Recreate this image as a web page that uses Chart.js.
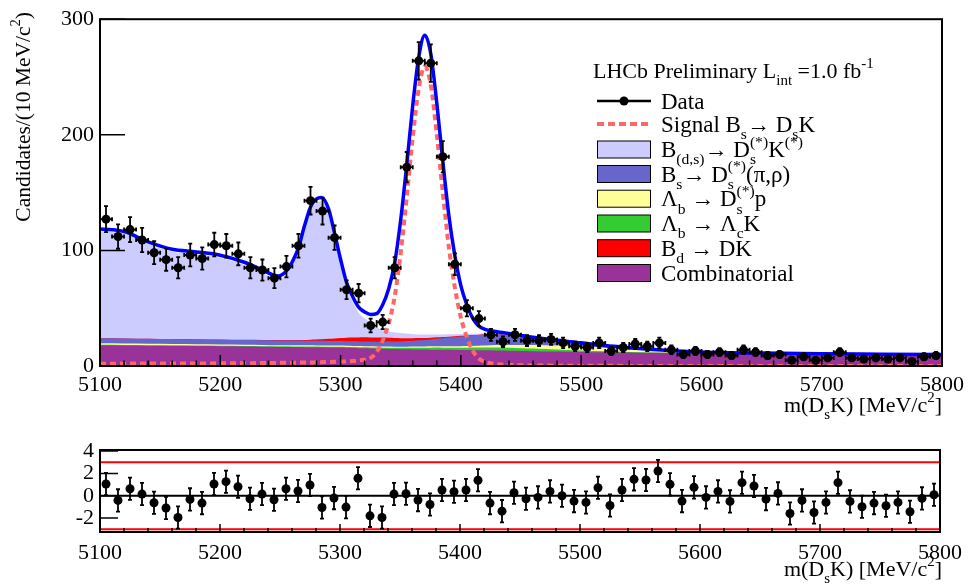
<!DOCTYPE html>
<html>
<head>
<meta charset="utf-8">
<script src="https://cdn.jsdelivr.net/npm/chart.js@4.4.0/dist/chart.umd.min.js"></script>
<style>
  html, body { margin: 0; padding: 0; background: #fff; }
  #top { position: absolute; left: 0; top: 0; width: 970px; height: 420px; }
  #bottom { position: absolute; left: 0; top: 430px; width: 970px; height: 154px; }
</style>
</head>
<body>
<div id="top"><canvas id="mainChart" width="970" height="420"></canvas></div>
<div id="bottom"><canvas id="pullChart" width="970" height="154"></canvas></div>
<script>
// histogram bin centres, 10 MeV bins
const massBins = [5105,5115,5125,5135,5145,5155,5165,5175,5185,5195,
  5205,5215,5225,5235,5245,5255,5265,5275,5285,5295,
  5305,5315,5325,5335,5345,5355,5365,5375,5385,5395,
  5405,5415,5425,5435,5445,5455,5465,5475,5485,5495,
  5505,5515,5525,5535,5545,5555,5565,5575,5585,5595,
  5605,5615,5625,5635,5645,5655,5665,5675,5685,5695,
  5705,5715,5725,5735,5745,5755,5765,5775,5785,5795];
const candidates = [127,112,118,109,98,92,85,96,93,105,
  104,97,85,83,76,86,104,143,134,111,
  66,63,35,38,85,172,264,262,181,88,
  50,41,27,21,27,22,22,23,20,17,
  16,20,13,16,19,17,20,14,10,13,
  10,12,9,14,12,9,10,5,8,5,
  7,12,7,6,7,6,7,4,8,9];
const pulls = [1.05,-0.42,0.63,0.15,-0.63,-1.1,-1.95,-0.33,-0.66,1.05,
  1.26,0.81,-0.27,0.15,-0.36,0.63,0.42,0.96,-1.05,-0.21,
  -1.02,1.57,-1.8,-1.95,0.15,0.18,-0.39,-0.78,0.51,0.36,
  0.51,1.39,-0.66,-1.38,0.27,-0.27,-0.15,0.39,0.0,-0.48,
  -0.6,0.72,-0.87,0.51,1.47,1.41,2.22,1.02,-0.48,0.75,
  -0.15,0.39,-0.51,1.17,0.87,-0.3,0.21,-1.59,-0.42,-1.5,
  -0.6,1.17,-0.51,-0.99,-0.66,-0.9,-0.6,-1.44,-0.24,0.09];

// fit components at these masses
const fitMass = [5100,5120,5140,5160,5180,5200,5220,5235,5248,5256,
  5260,5265,5270,5275,5280,5284,5290,5295,5300,5305,
  5310,5315,5320,5325,5330,5335,5340,5345,5350,5355,
  5360,5365,5370,5375,5380,5385,5390,5395,5400,5405,
  5410,5415,5420,5430,5440,5450,5460,5480,5500,5520,
  5540,5560,5580,5600,5650,5700,5750,5800];
const combinatorial = [18.0,17.8,17.6,17.4,17.2,17.0,16.8,16.65,16.5,16.45,
  16.4,16.35,16.3,16.25,16.2,16.15,16.1,16.05,16.0,15.8,
  15.6,15.45,15.3,15.15,15.0,14.85,14.7,14.6,14.5,14.4,
  14.35,14.3,14.2,14.15,14.1,14.0,13.95,13.9,13.8,13.75,
  13.7,13.6,13.55,13.4,13.2,13.0,12.85,12.5,12.2,11.9,
  11.65,11.4,11.2,11.0,10.7,10.4,10.1,9.8];
const lbLcK = [0.4,0.4,0.4,0.45,0.45,0.5,0.5,0.5,0.5,0.55,
  0.55,0.55,0.55,0.6,0.6,0.6,0.6,0.6,0.65,0.7,
  0.75,0.8,0.85,0.9,0.95,1.0,1.1,1.15,1.2,1.3,
  1.4,1.5,1.6,1.7,1.8,1.85,1.9,1.95,2.0,2.1,
  2.2,2.3,2.4,2.5,2.5,2.4,2.2,1.7,1.2,0.8,
  0.5,0.3,0.2,0.1,0.05,0,0,0];
const lbDsp = [1.2,1.2,1.2,1.15,1.15,1.1,1.1,1.1,1.05,1.05,
  1.05,1.05,1.0,1.0,1.0,1.0,1.0,1.0,1.0,1.0,
  1.0,1.0,1.0,1.0,1.0,1.0,1.0,1.0,1.0,1.05,
  1.05,1.1,1.1,1.15,1.2,1.2,1.25,1.3,1.3,1.4,
  1.5,1.65,1.8,2.2,2.5,2.8,3.1,3.6,3.7,3.0,
  2.3,1.5,0.9,0.5,0.1,0,0,0];
const bsDsPi = [4.4,4.4,4.35,4.3,4.25,4.2,4.15,4.1,4.1,4.05,
  4.05,4.05,4.0,4.0,4.0,4.0,4.0,4.0,4.0,4.0,
  4.0,4.0,4.05,4.05,4.1,4.2,4.3,4.45,4.6,4.8,
  5.0,5.3,5.6,6.0,6.5,7.0,7.5,8.0,8.5,8.8,
  9.1,9.3,9.5,9.3,8.5,7.3,6.0,4.0,2.8,1.8,
  1.3,1.0,0.7,0.5,0.3,0.2,0.15,0.1];
const bdDK = [0,0,0,0,0.05,0.05,0.1,0.2,0.3,0.4,
  0.45,0.55,0.7,0.9,1.1,1.3,1.8,2.1,2.5,2.9,
  3.2,3.45,3.6,3.65,3.6,3.5,3.3,3.05,2.8,2.5,
  2.2,1.95,1.7,1.45,1.2,1.0,0.8,0.65,0.5,0.4,
  0.3,0.25,0.2,0.1,0.05,0,0,0,0,0,
  0,0,0,0,0,0,0,0];
const bdsDsKst = [92.6,90.5,81.7,75.5,73.4,70.7,64.7,58,52.6,58,
  65,76.8,95.7,111.6,118.4,119.5,109,87.6,64.4,43.8,
  31.3,21.4,16.6,12.8,8.7,6.5,5.5,5,4.5,4,
  3.5,3.2,3,2.7,2.5,2.2,2,1.7,1.5,1.3,
  1.1,0.9,0.8,0.6,0.45,0.3,0.2,0.1,0,0,
  0,0,0,0,0,0,0,0];
const signalBsDsK = [2.0,2.05,2.1,2.15,2.2,2.3,2.4,2.55,2.7,2.8,
  2.85,2.95,3.0,3.1,3.2,3.3,3.45,3.6,3.8,4.0,
  4.3,4.8,5.4,7.0,12,22,37,60,98,146,
  198,240,259,243,200,150,103,68,42,25,
  13,6.5,3.5,1.5,0.9,0.6,0.45,0.3,0.2,0.15,
  0.1,0.1,0.05,0.05,0,0,0,0];

const xTicks = [5100,5200,5300,5400,5500,5600,5700,5800];
const yTicksMain = [0,100,200,300];
const yTicksPull = [-2,0,2,4];
const pullLimits = [3,-3];

const SERIF = '"Liberation Serif", "Times New Roman", serif';

// stack the background components, bottom first
const layers = [
  {vals: combinatorial, color: '#993399'},
  {vals: lbLcK, color: '#33cc33'},
  {vals: lbDsp, color: '#ffff99'},
  {vals: bsDsPi, color: '#6666cc'},
  {vals: bdDK, color: '#ff0000'},
  {vals: bdsDsKst, color: '#ccccff'}
];
let running = fitMass.map(() => 0);
layers.forEach(l => {
  running = running.map((r, i) => r + l.vals[i]);
  l.cum = running.slice();
});
const totalFit = running.map((r, i) => r + signalBsDsK[i]);

const pts = (xs, ys) => xs.map((x, i) => ({x: x, y: ys[i]}));

function richText(ctx, x, y, parts, size, align) {
  const seg = parts.map(p => typeof p === 'string' ? {t: p} : p);
  const widthOf = s => {
    if (s.t !== undefined) { ctx.font = size + 'px ' + SERIF; return ctx.measureText(s.t).width; }
    ctx.font = (size * 0.68) + 'px ' + SERIF;
    return Math.max(s.sub ? ctx.measureText(s.sub).width : 0, s.sup ? ctx.measureText(s.sup).width : 0);
  };
  const total = seg.reduce((w, s) => w + widthOf(s), 0);
  let cx = align === 'right' ? x - total : x;
  ctx.textAlign = 'left';
  ctx.textBaseline = 'alphabetic';
  ctx.fillStyle = '#000';
  seg.forEach(s => {
    const w = widthOf(s);
    if (s.t !== undefined) ctx.fillText(s.t, cx, y);
    else {
      if (s.sub) ctx.fillText(s.sub, cx, y + size * 0.32);
      if (s.sup) ctx.fillText(s.sup, cx, y - size * 0.45);
    }
    cx += w;
  });
}

// ROOT style frame with inward ticks
const rootAxes = {
  id: 'rootAxes',
  afterDatasetsDraw(chart, args, o) {
    const {ctx, chartArea: a, scales: {x, y}} = chart;
    ctx.save();
    ctx.strokeStyle = '#000';
    ctx.lineWidth = 1.5;
    ctx.beginPath();
    for (let v = xTicks[0]; v <= xTicks[xTicks.length - 1]; v += 20) {
      const px = x.getPixelForValue(v);
      const len = xTicks.includes(v) ? o.xMajor : o.xMinor;
      ctx.moveTo(px, a.bottom);
      ctx.lineTo(px, a.bottom - len);
    }
    o.yTicks.forEach(v => {
      const py = y.getPixelForValue(v);
      ctx.moveTo(a.left, py);
      ctx.lineTo(a.left + o.yLen, py);
    });
    ctx.stroke();
    ctx.lineWidth = 2;
    ctx.strokeRect(a.left, a.top, a.right - a.left, a.bottom - a.top);
    ctx.restore();
  }
};

const errorBars = {
  id: 'errorBars',
  afterDatasetsDraw(chart) {
    const {ctx, chartArea: a, scales: {x, y}} = chart;
    ctx.save();
    ctx.beginPath();
    ctx.rect(a.left, a.top, a.right - a.left, a.bottom - a.top);
    ctx.clip();
    ctx.strokeStyle = '#000';
    ctx.lineWidth = 1.8;
    chart.data.datasets.forEach((ds, i) => {
      if (!ds.errY) return;
      const meta = chart.getDatasetMeta(i);
      ds.data.forEach((p, j) => {
        const px = meta.data[j].x, py = meta.data[j].y;
        const e = ds.errY[j];
        const yHi = y.getPixelForValue(p.y + e), yLo = y.getPixelForValue(p.y - e);
        ctx.beginPath();
        ctx.moveTo(px, yLo); ctx.lineTo(px, yHi);
        ctx.moveTo(px - 2, yLo); ctx.lineTo(px + 2, yLo);
        ctx.moveTo(px - 2, yHi); ctx.lineTo(px + 2, yHi);
        if (ds.errX) {
          const xl = x.getPixelForValue(p.x - ds.errX), xr = x.getPixelForValue(p.x + ds.errX);
          ctx.moveTo(xl, py); ctx.lineTo(xr, py);
          ctx.moveTo(xl, py - 2); ctx.lineTo(xl, py + 2);
          ctx.moveTo(xr, py - 2); ctx.lineTo(xr, py + 2);
        }
        ctx.stroke();
      });
    });
    ctx.restore();
  }
};

const legendRows = [
  {kind: 'data', y: 101, text: ['Data']},
  {kind: 'dash', y: 124, text: ['Signal B', {sub: 's'}, '\u2192 D', {sub: 's'}, 'K']},
  {kind: 'box', y: 149.5, color: '#ccccff', text: ['B', {sub: '(d,s)'}, '\u2192 D', {sub: 's', sup: '(*)'}, 'K', {sup: '(*)'}]},
  {kind: 'box', y: 174, color: '#6666cc', text: ['B', {sub: 's'}, '\u2192 D', {sub: 's', sup: '(*)'}, '(\u03c0,\u03c1)']},
  {kind: 'box', y: 198.7, color: '#ffff99', text: ['\u039b', {sub: 'b'}, ' \u2192 D', {sub: 's', sup: '(*)'}, 'p']},
  {kind: 'box', y: 223.5, color: '#33cc33', text: ['\u039b', {sub: 'b'}, ' \u2192 \u039b', {sub: 'c'}, 'K']},
  {kind: 'box', y: 248.2, color: '#ff0000', text: ['B', {sub: 'd'}, ' \u2192 DK']},
  {kind: 'box', y: 273, color: '#993399', text: ['Combinatorial']}
];

const mainLabels = {
  id: 'mainLabels',
  afterDraw(chart) {
    const ctx = chart.ctx;
    ctx.save();
    richText(ctx, 593, 78, ['LHCb Preliminary L', {sub: 'int'}, ' =1.0 fb', {sup: '-1'}], 22);
    legendRows.forEach(r => {
      if (r.kind === 'data') {
        ctx.strokeStyle = '#000'; ctx.lineWidth = 2.5;
        ctx.beginPath(); ctx.moveTo(597, r.y); ctx.lineTo(651, r.y); ctx.stroke();
        ctx.fillStyle = '#000';
        ctx.beginPath(); ctx.arc(624, r.y, 4.5, 0, Math.PI * 2); ctx.fill();
      } else if (r.kind === 'dash') {
        ctx.strokeStyle = '#ff6666'; ctx.lineWidth = 4;
        ctx.setLineDash([7, 4]);
        ctx.beginPath(); ctx.moveTo(597, r.y); ctx.lineTo(651, r.y); ctx.stroke();
        ctx.setLineDash([]);
      } else {
        ctx.fillStyle = r.color;
        ctx.fillRect(597, r.y - 8.5, 54, 17);
        ctx.strokeStyle = '#000'; ctx.lineWidth = 1;
        ctx.strokeRect(597.5, r.y - 8.5, 53, 17);
      }
      richText(ctx, 661, r.y + 7.5, r.text, 23);
    });
    // axis titles
    richText(ctx, 942, 412, ['m(D', {sub: 's'}, 'K) [MeV/c', {sup: '2'}, ']'], 22, 'right');
    ctx.translate(30, 12);
    ctx.rotate(-Math.PI / 2);
    richText(ctx, 0, 0, ['Candidates/(10 MeV/c', {sup: '2'}, ')'], 21.5, 'right');
    ctx.restore();
  }
};

const pullLabels = {
  id: 'pullLabels',
  afterDraw(chart) {
    const ctx = chart.ctx;
    ctx.save();
    richText(ctx, 942, 146, ['m(D', {sub: 's'}, 'K) [MeV/c', {sup: '2'}, ']'], 22, 'right');
    ctx.restore();
  }
};

const tickFont = {family: SERIF, size: 22};
const xScale = (h, pad) => ({
  type: 'linear', min: xTicks[0], max: xTicks[xTicks.length - 1],
  afterFit: s => { s.height = h; },
  afterBuildTicks: s => { s.ticks = xTicks.map(v => ({value: v})); },
  grid: {display: false, drawTicks: false}, border: {display: false},
  ticks: {autoSkip: false, maxRotation: 0, padding: pad, font: tickFont, color: '#000', callback: v => String(v)}
});
const yScale = (min, max, ticks) => ({
  min: min, max: max,
  afterFit: s => { s.width = 100; },
  afterBuildTicks: s => { s.ticks = ticks.map(v => ({value: v})); },
  grid: {display: false, drawTicks: false}, border: {display: false},
  ticks: {autoSkip: false, padding: 6, font: tickFont, color: '#000', callback: v => String(v)}
});

new Chart(document.getElementById('mainChart'), {
  type: 'line',
  data: {
    datasets: [
      {
        data: pts(massBins, candidates), showLine: false,
        pointRadius: 4.5, pointBackgroundColor: '#000', pointBorderWidth: 0,
        errY: candidates.map(n => Math.sqrt(n)), errX: 5
      },
      {
        data: pts(fitMass, totalFit), borderColor: '#0000ff', borderWidth: 3.5,
        pointRadius: 0, fill: false, cubicInterpolationMode: 'monotone'
      },
      {
        data: pts(fitMass, signalBsDsK), borderColor: '#ff6666', borderWidth: 4,
        borderDash: [6, 4], pointRadius: 0, fill: false, cubicInterpolationMode: 'monotone'
      }
    ].concat(layers.map(l => ({
      data: pts(fitMass, l.cum), borderWidth: 0, pointRadius: 0,
      backgroundColor: l.color, fill: 'origin', cubicInterpolationMode: 'monotone'
    })))
  },
  options: {
    responsive: false, animation: false, devicePixelRatio: 1,
    layout: {padding: {left: 0, right: 28, top: 12, bottom: 0}},
    plugins: {
      legend: {display: false}, tooltip: {enabled: false},
      rootAxes: {xMajor: 11, xMinor: 5.5, yLen: 25, yTicks: yTicksMain}
    },
    scales: {
      x: xScale(54, 6),
      y: yScale(0, 300, yTicksMain)
    }
  },
  plugins: [rootAxes, errorBars, mainLabels]
});

new Chart(document.getElementById('pullChart'), {
  type: 'line',
  data: {
    datasets: [
      {
        data: pts(massBins, pulls), showLine: false,
        pointRadius: 4.5, pointBackgroundColor: '#000', pointBorderWidth: 0,
        errY: pulls.map(() => 1)
      },
      {
        data: pts([xTicks[0], xTicks[xTicks.length - 1]], [0, 0]),
        borderColor: '#000', borderWidth: 2, pointRadius: 0, fill: false
      }
    ].concat(pullLimits.map(v => ({
      data: pts([xTicks[0], xTicks[xTicks.length - 1]], [v, v]),
      borderColor: '#ff0000', borderWidth: 2, pointRadius: 0, fill: false
    })))
  },
  options: {
    responsive: false, animation: false, devicePixelRatio: 1,
    layout: {padding: {left: 0, right: 28, top: 20, bottom: 0}},
    plugins: {
      legend: {display: false}, tooltip: {enabled: false},
      rootAxes: {xMajor: 8, xMinor: 4, yLen: 18, yTicks: yTicksPull}
    },
    scales: {
      x: xScale(52, 8),
      y: yScale(-3.25, 4.1, yTicksPull)
    }
  },
  plugins: [rootAxes, errorBars, pullLabels]
});
</script>
</body>
</html>
